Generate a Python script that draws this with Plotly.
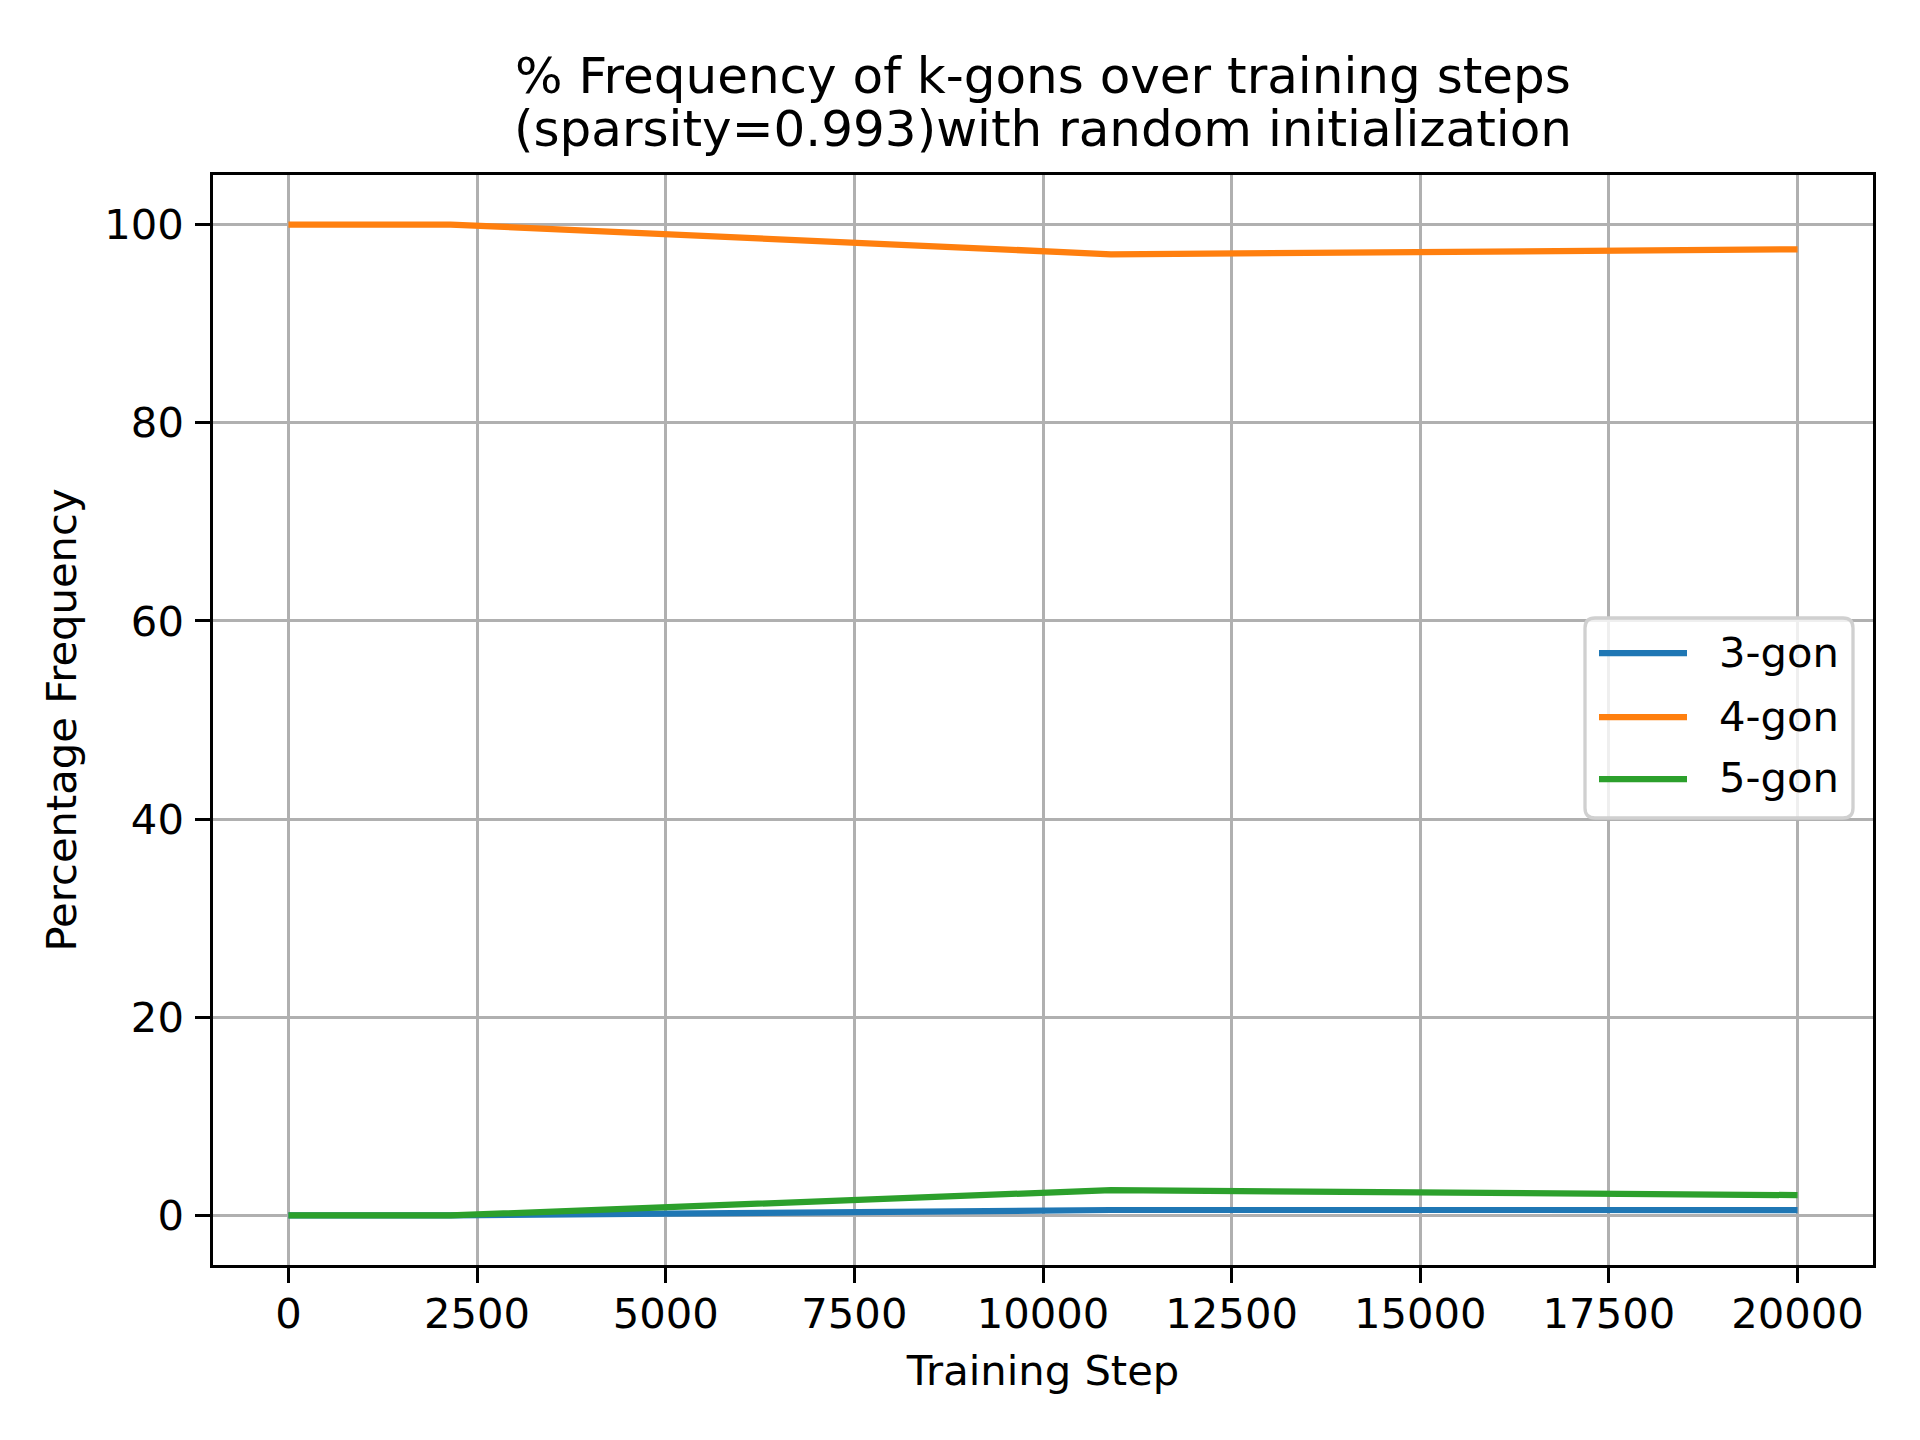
import plotly.graph_objects as go

steps = [0, 2150, 10900, 20000]
gon3 = [0.0, 0.0, 0.55, 0.55]
gon4 = [100.0, 100.0, 97.0, 97.5]
gon5 = [0.0, 0.0, 2.55, 2.05]
series_names = ["3-gon", "4-gon", "5-gon"]
colors = ["#1f77b4", "#ff7f0e", "#2ca02c"]
x_ticks = [0, 2500, 5000, 7500, 10000, 12500, 15000, 17500, 20000]
y_ticks = [0, 20, 40, 60, 80, 100]
title_lines = ["% Frequency of k-gons over training steps",
               "(sparsity=0.993)with random initialization"]

FONT = "DejaVu Sans"
W, H = 1920, 1440
L, R, T, B = 213, 47, 175, 175
PW, PH = W - L - R, H - T - B


def px_x(x):
    return (x - L) / PW


def px_y(y):
    return (H - B - y) / PH


fig = go.Figure()
for name, ys, c in zip(series_names, [gon3, gon4, gon5], colors):
    fig.add_trace(go.Scatter(x=steps, y=ys, mode="lines", name=name,
                             line=dict(color=c, width=6.25), showlegend=False))

axis_common = dict(
    showline=True, linecolor="black", linewidth=3.3, mirror=True,
    ticks="outside", ticklen=14.6, tickwidth=3.3, tickcolor="black",
    showgrid=True, gridcolor="#b0b0b0", gridwidth=3.3, zeroline=False,
    tickfont=dict(family=FONT, size=41.7, color="black"),
)

annotations = []
# title (two lines)
for txt, yc in zip(title_lines, [77, 130]):
    annotations.append(dict(text=txt, xref="paper", yref="paper",
                            x=0.5, y=px_y(yc - 1), xanchor="center", yanchor="middle",
                            showarrow=False, font=dict(family=FONT, size=50, color="black")))

# legend drawn manually (matplotlib style)
bx0, bx1, by0, by1 = 1585, 1853, 618, 818
r = 10
shapes = []
path = (f"M {px_x(bx0 + r)},{px_y(by0)} L {px_x(bx1 - r)},{px_y(by0)} "
        f"Q {px_x(bx1)},{px_y(by0)} {px_x(bx1)},{px_y(by0 + r)} "
        f"L {px_x(bx1)},{px_y(by1 - r)} Q {px_x(bx1)},{px_y(by1)} {px_x(bx1 - r)},{px_y(by1)} "
        f"L {px_x(bx0 + r)},{px_y(by1)} Q {px_x(bx0)},{px_y(by1)} {px_x(bx0)},{px_y(by1 - r)} "
        f"L {px_x(bx0)},{px_y(by0 + r)} Q {px_x(bx0)},{px_y(by0)} {px_x(bx0 + r)},{px_y(by0)} Z")
shapes.append(dict(type="path", path=path, xref="paper", yref="paper", layer="above",
                   fillcolor="rgba(255,255,255,0.8)", line=dict(color="#d0d0d0", width=3.3)))
for name, c, yy in zip(series_names, colors, [653, 717, 779]):
    shapes.append(dict(type="line", xref="paper", yref="paper", layer="above",
                       x0=px_x(1599), x1=px_x(1687), y0=px_y(yy), y1=px_y(yy),
                       line=dict(color=c, width=6.25)))
    annotations.append(dict(text=name, xref="paper", yref="paper",
                            x=px_x(1717), y=px_y(yy - 1), xanchor="left", yanchor="middle",
                            showarrow=False, font=dict(family=FONT, size=41.7, color="black")))

fig.update_layout(
    width=W, height=H,
    margin=dict(l=L, r=R, t=T, b=B, pad=0),
    paper_bgcolor="white", plot_bgcolor="white",
    font=dict(family=FONT, color="black"),
    xaxis=dict(range=[-1000, 21000], tickvals=x_ticks, tickformat="d",
               ticklabelstandoff=-5,
               title=dict(text="Training Step", font=dict(family=FONT, size=41.7), standoff=20),
               **axis_common),
    yaxis=dict(range=[-5, 105], tickvals=y_ticks, ticklabelstandoff=3,
               title=dict(text="Percentage Frequency", font=dict(family=FONT, size=41.7), standoff=15),
               **axis_common),
    annotations=annotations,
    shapes=shapes,
    showlegend=False,
)

fig.write_html("out.html", config={"displayModeBar": False},
               post_script="document.body.style.margin='0';")
